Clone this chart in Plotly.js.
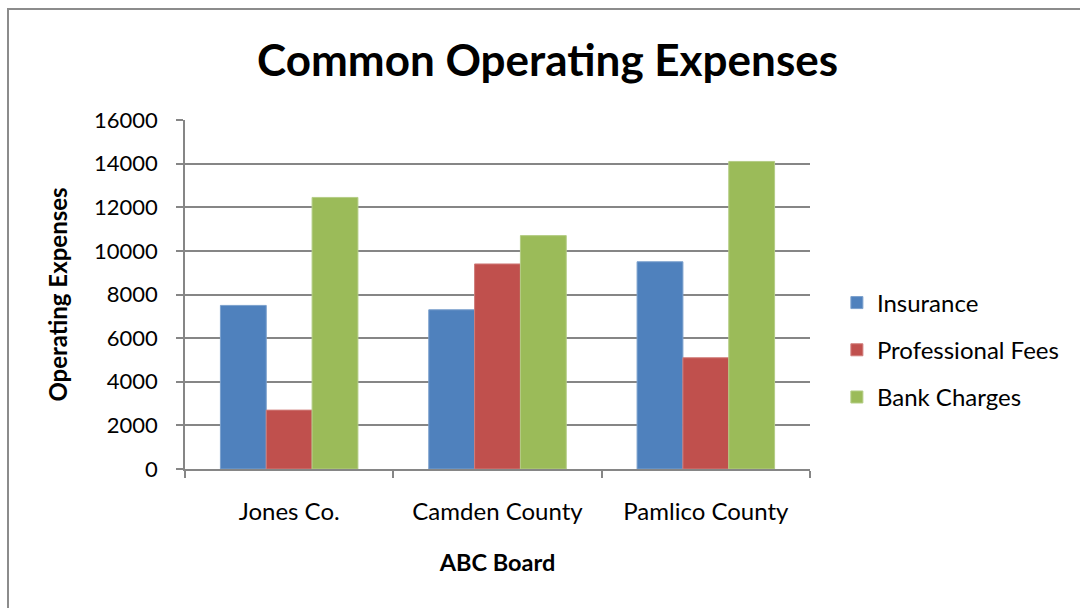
<!DOCTYPE html>
<html>
<head>
<meta charset="utf-8">
<script src="https://cdn.plot.ly/plotly-3.0.1.min.js"></script>
<style>
html,body{margin:0;padding:0;background:#fff;}
#wrap{position:relative;width:1080px;height:608px;overflow:hidden;}
#frame{position:absolute;left:7px;top:8px;width:1200px;height:700px;border-left:2px solid #8c8c8c;border-top:2px solid #8c8c8c;pointer-events:none;z-index:5;}
#chart{position:absolute;left:0;top:0;width:1080px;height:608px;}
</style>
</head>
<body>
<div id="wrap"><div id="chart"></div><div id="frame"></div></div>
<script>
const categories = ["Jones Co.", "Camden County", "Pamlico County"];
const seriesNames = ["Insurance", "Professional Fees", "Bank Charges"];
const insurance = [7500, 7300, 9500];
const professionalFees = [2700, 9400, 5100];
const bankCharges = [12450, 10700, 14100];
const yTicks = [0, 2000, 4000, 6000, 8000, 10000, 12000, 14000, 16000];

const colors = ["#4F81BD", "#C0504D", "#9BBB59"];
const lineColors = ["#7BA0CD", "#D07C7A", "#B4CD85"];
const values = [insurance, professionalFees, bankCharges];
const fontFam = "Lato, 'Open Sans', sans-serif";

const traces = seriesNames.map((name, i) => ({
  type: "bar",
  name: name,
  x: categories,
  y: values[i],
  legendgroup: "g" + i,
  marker: {color: colors[i], line: {color: lineColors[i], width: 1}},
  hoverinfo: "x+y+name"
}));

const layout = {
  width: 1080, height: 608,
  paper_bgcolor: "#fff", plot_bgcolor: "#fff",
  font: {family: fontFam, color: "#000", size: 22},
  margin: {l: 185, r: 270, t: 120, b: 139, pad: 0},
  title: {text: "<b>Common Operating Expenses</b>", font: {family: fontFam, size: 44, color: "#000"},
          x: 0.507, xanchor: "center", xref: "container", y: 0.9, yanchor: "middle", yref: "container"},
  barmode: "group", bargap: 0.34, bargroupgap: 0,
  showlegend: true,
  legend: {x: 1.043, xanchor: "left", y: 0.341, yanchor: "middle", traceorder: "grouped",
           tracegroupgap: 13, font: {family: fontFam, size: 24, color: "#000"}, itemwidth: 30, bgcolor: "rgba(0,0,0,0)"},
  xaxis: {
    type: "category", showline: true, linecolor: "#868686", linewidth: 1.5,
    ticks: "outside", tickson: "boundaries", ticklen: 7, tickcolor: "#868686", tickwidth: 1.5,
    showgrid: false, zeroline: false, ticklabelstandoff: 20,
    tickfont: {family: fontFam, size: 24, color: "#000"},
    title: {text: "<b>ABC Board</b>", font: {family: fontFam, size: 23.5, color: "#000"}, standoff: 31}
  },
  yaxis: {
    range: [0, 16000], tickvals: yTicks, ticktext: yTicks.map(String),
    showline: true, linecolor: "#868686", linewidth: 1.5,
    ticks: "outside", ticklen: 7, tickcolor: "#868686", tickwidth: 1.5,
    showgrid: true, gridcolor: "#868686", gridwidth: 1.5, zeroline: false,
    ticklabelstandoff: 14,
    tickfont: {family: fontFam, size: 22, color: "#000"},
    title: {text: "<b>Operating Expenses</b>", font: {family: fontFam, size: 24, color: "#000"}, standoff: 20}
  }
};

Plotly.newPlot("chart", traces, layout, {displayModeBar: false, staticPlot: false});
</script>
</body>
</html>
